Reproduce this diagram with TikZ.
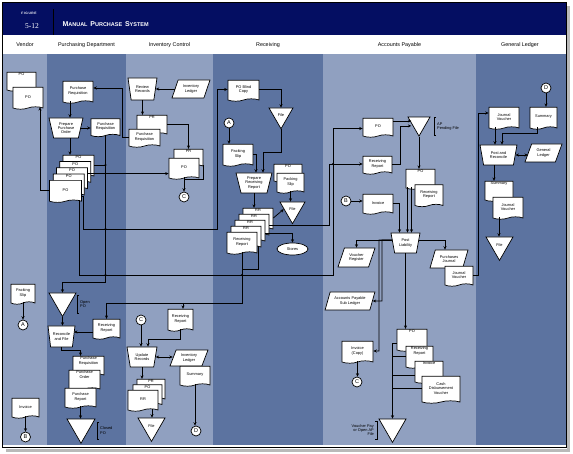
\documentclass[tikz,border=0pt]{standalone}
\usepackage{fontspec}
\setmainfont{Liberation Sans}
\newfontfamily\mpserif{Liberation Serif}
\usetikzlibrary{arrows.meta,shapes.geometric,shapes.symbols}
\definecolor{mpnavy}{RGB}{4,14,98}
\definecolor{mplight}{RGB}{144,160,192}
\definecolor{mpdark}{RGB}{92,115,160}
\newcommand{\mptiny}{\fontsize{3.9}{4.3}\selectfont}
\newcommand{\mphead}{\fontsize{5.4}{6}\selectfont}
\newcommand{\mpsc}[2]{{\fontsize{7}{8}\selectfont #1}{\fontsize{5.5}{8}\selectfont #2}}
\tikzset{
  mpdoc/.style={draw, fill=white, line width=.7pt, tape, tape bend top=none, tape bend height=2.4pt, align=center, inner sep=.5pt, font=\mptiny},
  mpback/.style={mpdoc, label={[anchor=north, inner sep=1pt, font=\mptiny, align=center]north:#1}},
  mpop/.style={draw, fill=white, line width=.7pt, trapezium, trapezium stretches=true, trapezium angle=75, shape border rotate=180, align=center, inner sep=.4pt, font=\mptiny},
  mpledger/.style={draw, fill=white, line width=.7pt, trapezium, trapezium stretches=true, trapezium left angle=65, trapezium right angle=115, align=center, inner sep=.4pt, font=\mptiny},
  mpfile/.style={draw, fill=white, line width=.7pt, regular polygon, regular polygon sides=3, shape border rotate=180, inner sep=0pt, font=\mptiny},
  mpconn/.style={draw, fill=white, line width=.7pt, circle, minimum size=10pt, inner sep=0pt, font=\fontsize{5.5}{5.5}\selectfont},
  mpstore/.style={draw, fill=white, line width=.7pt, ellipse, minimum width=31pt, minimum height=12pt, inner sep=0pt, font=\mptiny},
  mpnote/.style={font=\mptiny, align=left, inner xsep=3pt, inner ysep=0pt},
  mpline/.style={line width=.75pt, draw=black},
  mparr/.style={mpline, -{Stealth[length=3.4pt,width=3pt]}},
  mpboth/.style={mpline, {Stealth[length=3.4pt,width=3pt]}-{Stealth[length=3.4pt,width=3pt]}},
  mphd/.style={font=\mphead}
}

\begin{document}
\begin{tikzpicture}[x=1pt, y=-1pt]
  \useasboundingbox (0,0) rectangle (573,454);
  % frame, title bar and lanes
  \fill[white] (0,0) rectangle (573,454);
  \fill[gray!55] (6,449) rectangle (570,452);
  \fill[gray!55] (567,6) rectangle (570,452);
  \draw[line width=.8pt] (2.5,2.5) rectangle (566.5,447.5);
  \fill[mpnavy] (3,3) rectangle (566,35);
  \fill[mplight] (3,54) rectangle (47,445);
  \fill[mpdark] (47,54) rectangle (126,445);
  \fill[mplight] (126,54) rectangle (213,445);
  \fill[mpdark] (213,54) rectangle (323,445);
  \fill[mplight] (323,54) rectangle (476,445);
  \fill[mpdark] (476,54) rectangle (566,445);
  \node[text=white, font=\fontsize{3.3}{4}\selectfont\bfseries] (figword) at (29,13) {F\,I\,G\,U\,R\,E};
  \node[text=white, font=\mpserif\fontsize{7.5}{8}\selectfont] (fignum) at (32,26) {5-12};
  \draw[black, line width=.6pt] (53,9) -- (53,35);
  \node[text=white, anchor=west, font=\bfseries] (figtitle) at (59,24) {\mpsc{M}{ANUAL} \mpsc{P}{URCHASE} \mpsc{S}{YSTEM}};
  \node[mphd] (hvendor) at (25,45) {Vendor};
  \node[mphd] (hpurch) at (86.5,45) {Purchasing Department};
  \node[mphd] (hinv) at (169.5,45) {Inventory Control};
  \node[mphd] (hrecv) at (268,45) {Receiving};
  \node[mphd] (hap) at (399.5,45) {Accounts Payable};
  \node[mphd] (hgl) at (520,45) {General Ledger};

  % vendor
  \node[mpback=PO, minimum width=29pt, minimum height=19pt] (vpoa) at (21.5,80.5) {};
  \node[mpdoc, minimum width=30pt, minimum height=22pt] (vpob) at (28,97) {PO};
  \node[mpdoc, minimum width=24pt, minimum height=20pt] (vslip) at (23,293) {Packing\\Slip};
  \node[mpconn] (va) at (23,325) {A};
  \node[mpdoc, minimum width=27pt, minimum height=20pt] (vinv) at (25.5,407) {Invoice};
  \node[mpconn] (vb) at (25.5,437) {B};

  % purchasing department
  \node[mpdoc, minimum width=30pt, minimum height=22pt] (pdreq) at (78,91) {Purchase\\Requisition};
  \node[mpop, minimum width=34pt, minimum height=20pt] (pdprep) at (66,128) {Prepare\\Purchase\\Order};
  \node[mpdoc, minimum width=29pt, minimum height=18pt] (pdreqb) at (105.5,126.5) {Purchase\\Requisition};
  \node[mpback=PO, minimum width=31pt, minimum height=22pt] (pdpoa) at (78.5,165) {};
  \node[mpback=PO, minimum width=31pt, minimum height=22pt] (pdpob) at (75.25,171.3) {};
  \node[mpback=PO, minimum width=31pt, minimum height=22pt] (pdpoc) at (72,177.6) {};
  \node[mpback=PO, minimum width=31pt, minimum height=22pt] (pdpod) at (68.75,183.9) {};
  \node[mpdoc, minimum width=32pt, minimum height=22pt] (pdpoe) at (65.5,190.2) {PO};
  \node[mpfile, minimum size=31.2pt] (pdopen) at (62.5,300.8) {};
  \node[mpnote, anchor=west, minimum height=18pt] (pdopenlbl) at (77,304) {Open\\PO};
  \node[mpop, minimum width=27pt, minimum height=21pt] (pdrec) at (61.5,336.5) {Reconcile\\and File};
  \node[mpdoc, minimum width=27pt, minimum height=20pt] (pdrr) at (106.5,328) {Receiving\\Report};
  \node[mpback={Purchase\\Requisition}, minimum width=31pt, minimum height=20pt] (pdfa) at (88.5,365) {};
  \node[mpback={Purchase\\Order}, minimum width=31pt, minimum height=20pt] (pdfb) at (84.5,379) {};
  \node[mpdoc, minimum width=31pt, minimum height=20pt] (pdfc) at (80.5,397) {Purchase\\Report};
  \node[mpfile, minimum size=32.3pt] (pdclosed) at (81,427.1) {};
  \node[mpnote, anchor=west, minimum height=17pt] (pdclosedlbl) at (97,430.5) {Closed\\PO};

  % inventory control
  \node[mpop, minimum width=29pt, minimum height=22pt] (irev) at (142.5,89) {Review\\Records};
  \node[mpledger, minimum width=38pt, minimum height=18pt] (iled) at (191,89) {Inventory\\Ledger};
  \node[mpback=PR, minimum width=30pt, minimum height=20pt] (ipr) at (152,124) {};
  \node[mpdoc, minimum width=31pt, minimum height=18pt] (ipreq) at (144.5,137) {Purchase\\Requisition};
  \node[mpback=PR, minimum width=29pt, minimum height=18pt] (iprb) at (188.5,157) {};
  \node[mpdoc, minimum width=30pt, minimum height=21pt] (ipo) at (184,167.5) {PO};
  \node[mpconn] (ic) at (184,197) {C};
  \node[mpconn] (icb) at (141,320) {C};
  \node[mpdoc, minimum width=25pt, minimum height=22pt] (irr) at (180.5,319) {Receiving\\Report};
  \node[mpop, minimum width=30pt, minimum height=20pt] (iupd) at (142,357) {Update\\Records};
  \node[mpledger, minimum width=38pt, minimum height=16pt] (iledb) at (189,358) {Inventory\\Ledger};
  \node[mpdoc, minimum width=30pt, minimum height=20pt] (isum) at (195,375) {Summary};
  \node[mpconn] (id) at (196,431) {D};
  \node[mpback=PR, minimum width=28pt, minimum height=21pt] (ista) at (151,388.5) {};
  \node[mpback=PO, minimum width=29pt, minimum height=21pt] (istb) at (147.5,394) {};
  \node[mpdoc, minimum width=30pt, minimum height=21pt] (istc) at (143,399.5) {RR};
  \node[mpfile, minimum size=31.2pt] (ifile) at (151.5,425.8) {File};

  % receiving
  \node[mpdoc, minimum width=31pt, minimum height=21pt] (rblind) at (243.5,89.5) {PO Blind\\Copy};
  \node[mpfile, minimum size=27.7pt] (rfilea) at (281,114.9) {File};
  \node[mpconn] (ra) at (229,123) {A};
  \node[mpdoc, minimum width=30pt, minimum height=22pt] (rslip) at (238,154) {Packing\\Slip};
  \node[mpop, minimum width=36pt, minimum height=20pt] (rprep) at (254,183) {Prepare\\Receiving\\Report};
  \node[mpback=PO, minimum width=28pt, minimum height=18pt] (rpo) at (288,172) {};
  \node[mpdoc, minimum width=27pt, minimum height=20pt] (rslipb) at (290.5,182) {Packing\\Slip};
  \node[mpfile, minimum size=28.9pt] (rfileb) at (292.5,209.2) {File};
  \node[mpback=RR, minimum width=30pt, minimum height=22pt] (rrra) at (258,218) {};
  \node[mpback=RR, minimum width=30pt, minimum height=22pt] (rrrb) at (254,224) {};
  \node[mpback=RR, minimum width=30pt, minimum height=22pt] (rrrc) at (250,230) {};
  \node[mpback=RR, minimum width=30pt, minimum height=22pt] (rrrd) at (246,236) {};
  \node[mpdoc, minimum width=30pt, minimum height=22pt] (rrre) at (242,242) {Receiving\\Report};
  \node[mpstore] (rstores) at (292.5,249) {Stores};

  % accounts payable
  \node[mpdoc, minimum width=30pt, minimum height=19pt] (apo) at (378,126.5) {PO};
  \node[mpfile, minimum size=25.4pt] (apend) at (419,123.4) {};
  \node[mpnote, anchor=west, minimum height=18pt] (apendlbl) at (434,126.5) {AP\\Pending File};
  \node[mpdoc, minimum width=29pt, minimum height=18pt] (arr) at (377.5,164) {Receiving\\Report};
  \node[mpback=PO, minimum width=29pt, minimum height=20pt] (apob) at (420.5,178) {};
  \node[mpdoc, minimum width=28pt, minimum height=22pt] (arrb) at (429,194.5) {Receiving\\Report};
  \node[mpconn] (ab) at (346,201) {B};
  \node[mpdoc, minimum width=30pt, minimum height=20pt] (ainv) at (378,203) {Invoice};
  \node[mpop, minimum width=29pt, minimum height=20pt] (apost) at (405.5,243) {Post\\Liability};
  \node[mpledger, minimum width=37pt, minimum height=19pt] (avreg) at (356.5,257.5) {Voucher\\Register};
  \node[mpledger, minimum width=38pt, minimum height=18pt] (apj) at (449,259) {Purchases\\Journal};
  \node[mpdoc, minimum width=28pt, minimum height=20pt] (ajv) at (459,275) {Journal\\Voucher};
  \node[mpledger, minimum width=50pt, minimum height=18pt] (asub) at (350,301) {Accounts Payable\\Sub Ledger};
  \node[mpdoc, minimum width=31pt, minimum height=22pt] (ainvc) at (357.5,351) {Invoice\\(Copy)};
  \node[mpconn] (ac) at (357,382) {C};
  \node[mpback=PO, minimum width=30pt, minimum height=22pt] (apda) at (412,339) {};
  \node[mpback={Receiving\\Report}, minimum width=27pt, minimum height=22pt] (apdb) at (419.5,356) {};
  \node[mpback=Invoice, minimum width=28pt, minimum height=22pt] (apdc) at (429,371) {};
  \node[mpdoc, minimum width=38pt, minimum height=27pt] (apdd) at (441,388.5) {Cash\\Disbursement\\Voucher};
  \node[mpfile, minimum size=31.2pt] (avpay) at (392.5,426.8) {};
  \node[mpnote, anchor=east, align=right, minimum height=18pt] (avpaylbl) at (377,430) {Voucher Pay\\or Open AP\\File};

  % general ledger
  \node[mpconn] (gd) at (546,88) {D};
  \node[mpdoc, minimum width=30pt, minimum height=22pt] (gjv) at (504,117) {Journal\\Voucher};
  \node[mpdoc, minimum width=27pt, minimum height=22pt] (gsum) at (543.5,117) {Summary};
  \node[mpop, minimum width=37pt, minimum height=20pt] (gpost) at (498.5,155) {Post and\\Reconcile};
  \node[mpledger, minimum width=37pt, minimum height=18pt] (gled) at (543.5,153) {General\\Ledger};
  \node[mpback=Summary, minimum width=28pt, minimum height=20pt] (gsumb) at (499,190) {};
  \node[mpdoc, minimum width=30pt, minimum height=22pt] (gjvb) at (508,207) {Journal\\Voucher};
  \node[mpfile, minimum size=31.2pt] (gfile) at (499.5,244.8) {File};

  % file brackets
  \draw[mpline, line width=.5pt] ([xshift=2pt]pdopenlbl.north west) -- (pdopenlbl.north west) -- (pdopenlbl.south west) -- ([xshift=2pt]pdopenlbl.south west);
  \draw[mpline, line width=.5pt] ([xshift=2pt]pdclosedlbl.north west) -- (pdclosedlbl.north west) -- (pdclosedlbl.south west) -- ([xshift=2pt]pdclosedlbl.south west);
  \draw[mpline, line width=.5pt] ([xshift=2pt]apendlbl.north west) -- (apendlbl.north west) -- (apendlbl.south west) -- ([xshift=2pt]apendlbl.south west);
  \draw[mpline, line width=.5pt] ([xshift=-2pt]avpaylbl.north east) -- (avpaylbl.north east) -- (avpaylbl.south east) -- ([xshift=-2pt]avpaylbl.south east);

  % vendor flows
  \draw[mparr] (pdpoe.west) -| ([xshift=12pt]vpob.south);
  \draw[mparr] (vslip.south) -- (vslip.south |- va.north);
  \draw[mparr] (vinv.south) -- (vinv.south |- vb.north);

  % purchasing flows
  \draw[mparr] ([xshift=-8pt]pdreq.south) -- ([xshift=-8pt]pdreq.south |- pdprep.north);
  \draw[mparr] (pdprep.east) -- (pdprep.east -| pdreqb.west);
  \draw[mparr] ([xshift=4pt]pdprep.south) -- ([xshift=4pt]pdprep.south |- pdpoa.north);
  \draw[mparr] (pdreqb.south) -- (pdreqb.south |- 0,282) -| (pdopen.north);
  \draw[mpline] (pdpoa.east) -- (pdpoa.east -| pdreqb.south);
  \draw[mparr] ([yshift=4pt]pdpoc.east) -- ([yshift=4pt]pdpoc.east -| ipo.west);
  \draw[mparr] ([yshift=-6pt]pdpoe.east) -- ++(2,0) |- (217,229) |- (rblind.west);
  \draw[mparr] ([xshift=14pt]pdpoe.south) |- (333,275) |- ([yshift=-2pt]apo.west);
  \draw[mparr] (pdopen.south) -- (pdopen.south |- pdrec.north);
  \draw[mparr] ([yshift=-4pt]pdrr.west) -- ([yshift=-4pt]pdrr.west -| pdrec.east);
  \draw[mparr] (pdrec.south) -- ++(0,3) -| ([xshift=-8pt]pdfa.north);
  \draw[mparr] (pdfc.south) -- (pdfc.south |- pdclosed.north);

  % inventory flows
  \draw[mparr] (iled.west) -- (iled.west -| irev.east);
  \draw[mparr] (irev.south) -- (irev.south |- ipr.north);
  \draw[mparr] (ipr.east) -| (iprb.north);
  \draw[mparr] (ipreq.west) -- ++(-6,0) |- ([yshift=3pt]pdreq.east);
  \draw[mparr] (ipo.south) -- (ic.north);
  \draw[mpline] (iprb.south east) |- ([yshift=-2pt]ipo.south);
  \draw[mparr] (icb.south) -- (icb.south |- iupd.north);
  \draw[mparr] (irr.south) -- ++(0,10) -| ([xshift=6pt]iupd.north);
  \draw[mpboth] (iupd.east) -- (iupd.east -| iledb.west);
  \draw[mparr] (isum.south) -- (isum.south |- id.north);
  \draw[mparr] (iupd.south) -- (iupd.south |- ista.north);
  \draw[mparr] ([xshift=9pt]istc.south) -- ([xshift=9pt]istc.south |- ifile.north);

  % receiving flows
  \draw[mparr] (rblind.east) -| (rfilea.north);
  \draw[mparr] (ra.south) -- (ra.south |- rslip.north);
  \draw[mparr] (rslip.east) -| ([xshift=2pt]rprep.north);
  \draw[mparr] (rfilea.south) -- (rfilea.south |- 0,152) -| ([xshift=9pt]rprep.north);
  \draw[mparr] (rprep.south) -- (rprep.south |- rrra.north);
  \draw[mparr] (rslipb.south) -- (rslipb.south |- rfileb.north);
  \draw[mparr] (rrra.east) -- (rfileb.west);
  \draw[mparr] ([yshift=-1pt]rrrb.east) -- (329,225) |- (arr.west);
  \draw[mparr] ([yshift=-3pt]rrrc.east) -| (rstores.north);
  \draw[mparr] (rrre.south) -- (rrre.south |- 0,303) -| (pdrr.north);
  \draw[mparr] ([xshift=2.5pt]irr.north |- 0,303) -- ([xshift=2.5pt]irr.north);
  \draw[mpline] ([xshift=12pt]rrrd.south) |- (rrre.south |- 0,269);

  % accounts payable flows
  \draw[mparr] ([yshift=5.5pt]apo.east) -- ([yshift=5.5pt]apo.east -| apend.west);
  \draw[mparr] (arr.east) -- ++(8,0) |- ([yshift=-2.5pt]apend.west);
  \draw[mparr] (apend.south) -- (apend.south |- apob.north);
  \draw[mparr] (ab.east) -- (ab.east -| ainv.west);
  \draw[mparr] (ainv.east) -| ([xshift=-6pt]apost.north);
  \draw[mparr] ([xshift=-13pt]apob.south) -- ([xshift=-13pt]apob.south |- apost.north);
  \draw[mparr] ([xshift=-9pt]apob.south) -- ([xshift=-9pt]apob.south |- apost.north);
  \draw[mparr] ([yshift=3pt]apost.west) -| (avreg.north);
  \draw[mparr] ([yshift=3pt]apost.east) -| ([xshift=-4pt]apj.north);
  \draw[mparr] ([yshift=3pt]apost.west) -- (382,240) |- (asub.east);
  \draw[mparr] ([yshift=3pt]apost.west) -- (379,240) |- (ainvc.east);
  \draw[mparr] (ainvc.south) -- (ainvc.south |- ac.north);
  \draw[mparr] (apost.south) -- (apost.south |- apda.north);
  \draw[mparr] ([yshift=-4pt]apda.west) -| (avpay.north);
  \draw[mpline] (apdb.west) -- (apdb.west -| avpay.north);
  \draw[mpline] ([yshift=-4pt]apdc.west) -- ([yshift=-4pt]apdc.west -| avpay.north);
  \draw[mpline] (apdd.west) -- (apdd.west -| avpay.north);
  \draw[mparr] (ajv.east) -- (478,275) |- ([yshift=4pt]gjv.west);

  % general ledger flows
  \draw[mparr] (gd.south) -- (gd.south |- gsum.north);
  \draw[mparr] ([xshift=-9pt]gjv.south) -- ([xshift=-9pt]gjv.south |- gpost.north);
  \draw[mparr] ([xshift=-6.5pt]gsum.south) -- ++(0,6) -| ([xshift=3.5pt]gpost.north);
  \draw[mpboth] (gpost.east) -- (gpost.east -| gled.west);
  \draw[mparr] ([xshift=-4.5pt]gpost.south) -- ([xshift=-4.5pt]gpost.south |- gsumb.north);
  \draw[mparr] ([xshift=-9pt]gjvb.south) -- ([xshift=-9pt]gjvb.south |- gfile.north);

  % junctions
  \foreach \jx/\jy in {105.5/165, 105.5/173.6, 105.5/229, 105.5/275, 242/275, 333/164}
    \fill (\jx,\jy) circle (1.1);
\end{tikzpicture}
\end{document}
